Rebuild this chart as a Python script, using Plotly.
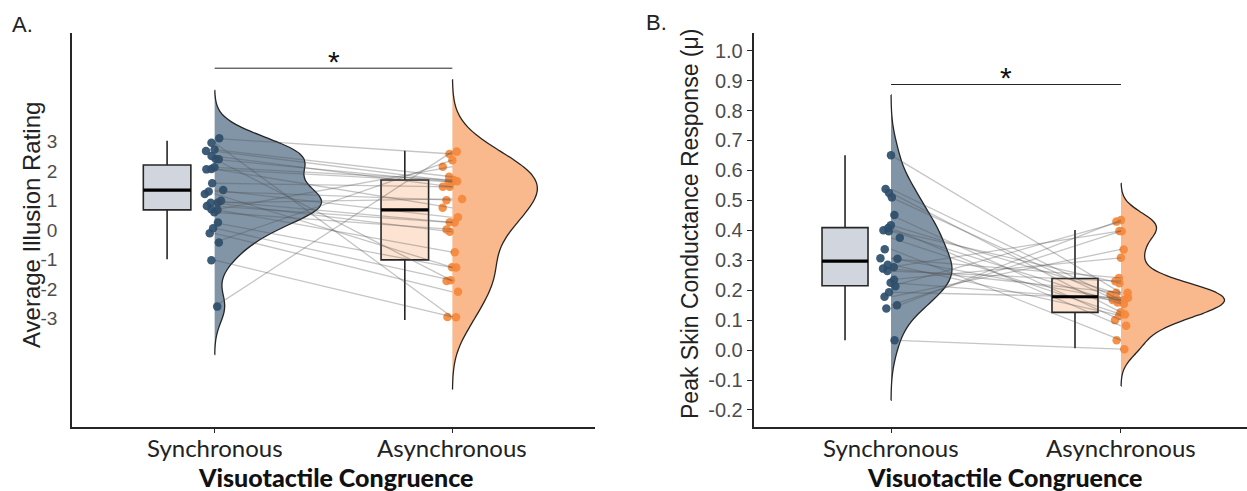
import plotly.graph_objects as go

# ---------------- data ----------------
categories = ["Synchronous", "Asynchronous"]
category_pos = [1, 2]

# Panel A: average illusion rating (paired, same participant order)
illusion_sync = [3.10, 2.95, 2.72, 2.67, 2.50, 2.40, 2.39, 2.12, 2.06, 2.05, 1.58, 1.35, 1.30, 1.22,
                 0.99, 0.92, 0.92, 0.81, 0.70, 0.68, 0.60, 0.25, 0.06, -0.11, -0.42, -1.02, -2.59]
illusion_async = [2.57, -2.95, 1.80, 1.65, 1.46, -1.72, 1.63, 1.69, 0.75, 1.63, 1.46, 0.43, 1.01, -1.26,
                  0.26, 1.05, -0.06, 0.25, -0.75, 2.14, 0.02, -1.27, -1.70, -2.09, 2.36, -2.94, 2.65]
illusion_q1 = [0.68, -1.01]
illusion_median = [1.35, 0.68]
illusion_q3 = [2.20, 1.69]
illusion_lowerfence = [-0.99, -3.04]
illusion_upperfence = [3.02, 2.68]
illusion_ticks = [3, 2, 1, 0, -1, -2, -3]
illusion_ticktext = ["3", "2", "1", "0", "-1", "-2", "-3"]

# Panel B: peak skin conductance response (paired)
scr_sync = [0.651, 0.538, 0.525, 0.510, 0.451, 0.417, 0.408, 0.400, 0.397, 0.375, 0.337, 0.307, 0.305,
            0.285, 0.277, 0.272, 0.264, 0.235, 0.225, 0.213, 0.193, 0.178, 0.150, 0.139, 0.033]
scr_async = [0.191, 0.167, 0.126, 0.159, 0.100, 0.185, 0.081, 0.223, 0.154, 0.119, 0.033, 0.167, 0.241,
             0.115, 0.398, 0.191, 0.230, 0.308, 0.167, 0.429, 0.175, 0.336, 0.397, 0.434, 0.003]
scr_q1 = [0.215, 0.126]
scr_median = [0.297, 0.178]
scr_q3 = [0.409, 0.239]
scr_lowerfence = [0.033, 0.006]
scr_upperfence = [0.651, 0.401]
scr_ticks = [1.0, 0.9, 0.8, 0.7, 0.6, 0.5, 0.4, 0.3, 0.2, 0.1, 0.0, -0.1, -0.2]
scr_ticktext = ["1.0", "0.9", "0.8", "0.7", "0.6", "0.5", "0.4", "0.3", "0.2", "0.1", "0.0", "-0.1", "-0.2"]

# ---------------- style ----------------
W, H = 1247, 491
POINT_COL = ["#2c4e6d", "#f5883b"]
VIOLIN_FILL = ["rgba(45,78,108,0.6)", "rgba(246,128,46,0.55)"]
BOX_FILL = ["#d1d6de", "#fde3d1"]
DARK = "#262626"
BOX_OFFSET = -0.2
BOX_W = 0.2

fig = go.Figure()


def add_panel(xa, ya, sync, asyn, q1, med, q3, lo, hi, bws, halfw):
    groups = [sync, asyn]
    # half violins
    for i, v in enumerate(groups):
        pos = category_pos[i]
        bw = bws[i]
        fig.add_trace(go.Violin(
            x=[pos] * len(v), y=v, side="positive", width=2 * halfw[i],
            bandwidth=bw, spanmode="manual", span=[min(v) - 3 * bw, max(v) + 3 * bw],
            fillcolor=VIOLIN_FILL[i], line=dict(color=DARK, width=1.3),
            points=False, hoverinfo="skip", showlegend=False,
            xaxis=xa, yaxis=ya))
    # paired lines
    lx, ly = [], []
    for s, a in zip(sync, asyn):
        lx += [category_pos[0], category_pos[1], None]
        ly += [s, a, None]
    fig.add_trace(go.Scatter(x=lx, y=ly, mode="lines",
                             line=dict(color="rgba(80,80,80,0.33)", width=1.3),
                             hoverinfo="skip", showlegend=False, xaxis=xa, yaxis=ya))
    # jittered points
    for i, v in enumerate(groups):
        pos = category_pos[i]
        fig.add_trace(go.Box(
            x=[pos] * len(v), y=v, boxpoints="all", jitter=1, pointpos=0, width=0.1,
            fillcolor="rgba(0,0,0,0)", line=dict(color="rgba(0,0,0,0)", width=0),
            whiskerwidth=0,
            marker=dict(color=POINT_COL[i], size=8.5, opacity=0.92),
            hoverinfo="skip", showlegend=False, xaxis=xa, yaxis=ya))
    # boxplots
    for i in range(2):
        bx = category_pos[i] + BOX_OFFSET
        fig.add_trace(go.Box(
            x=[bx], q1=[q1[i]], median=[med[i]], q3=[q3[i]],
            lowerfence=[lo[i]], upperfence=[hi[i]], width=BOX_W, whiskerwidth=0,
            fillcolor=BOX_FILL[i], line=dict(color=DARK, width=1.6),
            boxpoints=False, hoverinfo="skip", showlegend=False, xaxis=xa, yaxis=ya))
        fig.add_trace(go.Scatter(
            x=[bx - BOX_W / 2, bx + BOX_W / 2], y=[med[i], med[i]], mode="lines",
            line=dict(color="black", width=3.2), hoverinfo="skip", showlegend=False,
            xaxis=xa, yaxis=ya))


add_panel("x", "y", illusion_sync, illusion_async, illusion_q1, illusion_median, illusion_q3,
          illusion_lowerfence, illusion_upperfence, bws=[0.54, 0.81], halfw=[0.45, 0.357])
add_panel("x2", "y2", scr_sync, scr_async, scr_q1, scr_median, scr_q3,
          scr_lowerfence, scr_upperfence, bws=[0.067, 0.041], halfw=[0.265, 0.45])

ydom = [1 - 427.3 / H, 1 - 33.3 / H]
xcommon = dict(showgrid=False, zeroline=False, showline=True, linecolor=DARK, linewidth=1.5,
               ticks="outside", ticklen=4, tickcolor=DARK, tickvals=category_pos,
               showticklabels=False)
ycommon = dict(showgrid=False, zeroline=False, showline=True, linecolor=DARK, linewidth=1.5)

fig.update_layout(
    width=W, height=H, margin=dict(l=0, r=0, t=0, b=0),
    paper_bgcolor="white", plot_bgcolor="white", showlegend=False,
    xaxis=dict(domain=[72 / W, 595 / W], range=[0.4, 2.6], anchor="y", **xcommon),
    yaxis=dict(domain=ydom, range=[-6.67, 6.65], anchor="x", tickvals=illusion_ticks,
               ticktext=illusion_ticktext, ticks="", ticklabelstandoff=9,
               tickfont=dict(family="Liberation Sans, Arial", size=19, color="#4d4d4d"), **ycommon),
    xaxis2=dict(domain=[753.5 / W, 1.0], range=[0.402, 2.548], anchor="y2", **xcommon),
    yaxis2=dict(domain=ydom, range=[-0.258, 1.058], anchor="x2", tickvals=scr_ticks,
                ticktext=scr_ticktext, ticks="outside", ticklen=5, tickcolor=DARK,
                tickfont=dict(family="Liberation Sans, Arial", size=20, color="#4d4d4d"), **ycommon),
)

# significance bars
fig.add_shape(type="line", xref="x", yref="y", x0=1, x1=2, y0=5.47, y1=5.47,
              line=dict(color=DARK, width=1))
fig.add_shape(type="line", xref="x2", yref="y2", x0=1, x1=2, y0=0.887, y1=0.887,
              line=dict(color=DARK, width=1))

ann = []
ann.append(dict(x=1.5, y=5.71, xref="x", yref="y", text="*", showarrow=False, yanchor="middle",
                font=dict(family="Liberation Sans, Arial", size=30, color="#111111")))
ann.append(dict(x=1.5, y=0.912, xref="x2", yref="y2", text="*", showarrow=False, yanchor="middle",
                font=dict(family="Liberation Sans, Arial", size=30, color="#111111")))
# category tick labels
for xr in ["x", "x2"]:
    for pos, lab in zip(category_pos, categories):
        ann.append(dict(x=pos, y=1 - 447 / H, xref=xr, yref="paper", text=lab, showarrow=False,
                        xanchor="center", yanchor="middle",
                        font=dict(family="Lato", size=24, color="#222222")))
# panel letters
ann.append(dict(x=10 / W, y=1 - 24 / H, xref="paper", yref="paper", text="A.", showarrow=False,
                xanchor="left", yanchor="middle",
                font=dict(family="Liberation Sans, Arial", size=22, color="#222222")))
ann.append(dict(x=644 / W, y=1 - 22 / H, xref="paper", yref="paper", text="B.", showarrow=False,
                xanchor="left", yanchor="middle",
                font=dict(family="Liberation Sans, Arial", size=22, color="#222222")))
# y titles
ann.append(dict(x=31 / W, y=1 - 225 / H, xref="paper", yref="paper", text="Average Illusion Rating",
                textangle=-90, showarrow=False, xanchor="center", yanchor="middle",
                font=dict(family="Liberation Sans, Arial", size=24, color="#222222")))
ann.append(dict(x=690 / W, y=1 - 224 / H, xref="paper", yref="paper",
                text="Peak Skin Conductance Response (\u03bc)",
                textangle=-90, showarrow=False, xanchor="center", yanchor="middle",
                font=dict(family="Liberation Sans, Arial", size=23, color="#222222")))
# x titles
ann.append(dict(x=335 / W, y=1 - 477 / H, xref="paper", yref="paper", text="Visuotactile Congruence",
                showarrow=False, xanchor="center", yanchor="middle",
                font=dict(family="Lato", size=25, color="#111111", weight=900)))
ann.append(dict(x=1004 / W, y=1 - 477 / H, xref="paper", yref="paper", text="Visuotactile Congruence",
                showarrow=False, xanchor="center", yanchor="middle",
                font=dict(family="Lato", size=25, color="#111111", weight=900)))
fig.update_layout(annotations=ann)

fig.write_html("out.html")
